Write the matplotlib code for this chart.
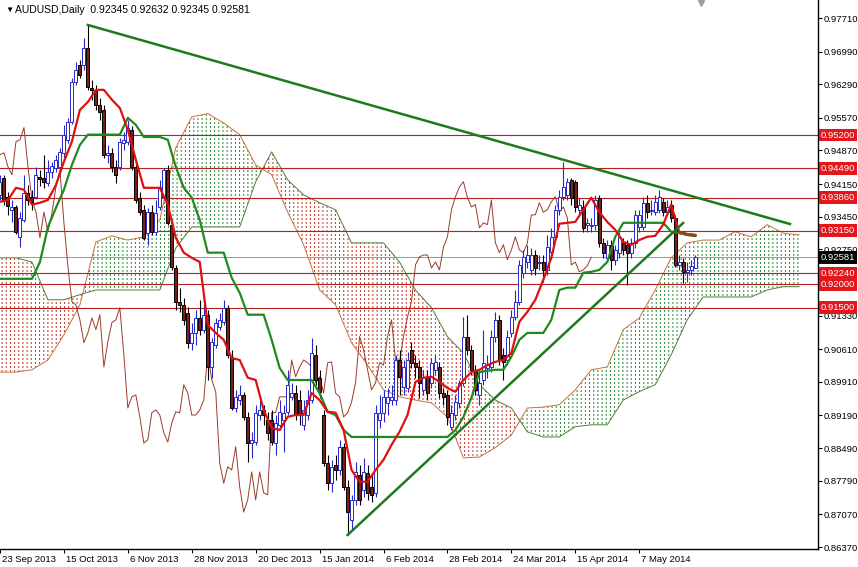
"""AUDUSD daily: candles, Ichimoku, trend lines and levels (MT4-style screenshot)."""

import numpy as np
import matplotlib
matplotlib.use("Agg")
import matplotlib.pyplot as plt
import matplotlib.transforms as mtransforms

plt.rcParams['font.family'] = ['Liberation Sans', 'DejaVu Sans']
plt.rcParams['hatch.linewidth'] = 0.72

title = "AUDUSD,Daily  0.92345 0.92632 0.92345 0.92581"

# OHLC, one value per daily bar (bar 0 = 23 Sep 2013)
opens = [
    .9392, .9428, .9388, .9360, .9366, .9302, .9338, .9396, .9388, .9388,
    .9430, .9428, .9418, .9441, .9450, .9452, .9482, .9510, .9548, .9634,
    .9671, .9671, .9707, .9621, .9617, .9585, .9574, .9478, .9482, .9452,
    .9452, .9503, .9506, .9531, .9452, .9386, .9360, .9310, .9355, .9313,
    .9366, .9388, .9445, .9328, .9235, .9163, .9156, .9139, .9075, .9096,
    .9128, .9103, .9135, .9023, .9070, .9109, .9120, .9150, .9045, .8935,
    .8952, .8963, .8916, .8860, .8862, .8920, .8931, .8910, .8910, .8860,
    .8899, .8910, .8927, .8959, .8967, .8952, .8899, .8920, .8952, .9049,
    .9000, .8920, .8817, .8774, .8813, .8802, .8852, .8766, .8695, .8738,
    .8792, .8759, .8796, .8766, .8753, .8910, .8925, .8946, .8952, .8952,
    .9038, .8980, .8978, .9060, .9032, .9023, .8974, .9002, .8989, .9017,
    .9023, .8967, .8963, .8895, .8920, .8946, .8989, .9088, .9060, .9017,
    .8963, .8995, .9021, .9023, .9088, .9124, .9049, .9038, .9096, .9130,
    .9163, .9225, .9248, .9231, .9263, .9246, .9248, .9231, .9270, .9302,
    .9360, .9388, .9392, .9424, .9420, .9360, .9366, .9328, .9326, .9328,
    .9386, .9289, .9257, .9285, .9253, .9268, .9289, .9285, .9268, .9289,
    .9323, .9323, .9375, .9358, .9355, .9360, .9377, .9355, .9371, .9343,
    .9242, .9248, .9227, .9231, .92345,
]
highs = [
    .9435, .9435, .9398, .9381, .9371, .9355, .9435, .9413, .9403, .9452,
    .9445, .9478, .9467, .9463, .9478, .9493, .9542, .9557, .9643, .9677,
    .9681, .9729, .9756, .9639, .9628, .9600, .9585, .9499, .9493, .9467,
    .9514, .9527, .9553, .9540, .9467, .9398, .9371, .9364, .9371, .9381,
    .9424, .9450, .9456, .9338, .9242, .9193, .9171, .9152, .9118, .9145,
    .9167, .9167, .9145, .9085, .9128, .9139, .9167, .9156, .9060, .8974,
    .8985, .8970, .8927, .8884, .8942, .8957, .8942, .8927, .8931, .8920,
    .8952, .8942, .9017, .8989, .8985, .8974, .8952, .8974, .9085, .9070,
    .9017, .8931, .8835, .8824, .8835, .8867, .8860, .8781, .8749, .8820,
    .8813, .8828, .8813, .8792, .8942, .8963, .8974, .8978, .8985, .9049,
    .9060, .9038, .9055, .9077, .9049, .9038, .9017, .9017, .9042, .9049,
    .9034, .8978, .8974, .8942, .8963, .8995, .9130, .9135, .9070, .9027,
    .9017, .9103, .9049, .9103, .9141, .9135, .9064, .9103, .9145, .9188,
    .9253, .9274, .9285, .9278, .9274, .9263, .9263, .9306, .9321, .9371,
    .9403, .9463, .9428, .9428, .9424, .9386, .9381, .9343, .9343, .9392,
    .9392, .9300, .9295, .9295, .9285, .9313, .9300, .9295, .9300, .9360,
    .9360, .9388, .9392, .9381, .9392, .9403, .9386, .9381, .9381, .9349,
    .9263, .9257, .9248, .9253, .92632,
]
lows = [
    .9381, .9371, .9349, .9334, .9308, .9280, .9334, .9371, .9360, .9383,
    .9411, .9407, .9411, .9428, .9441, .9445, .9471, .9503, .9544, .9628,
    .9643, .9660, .9617, .9596, .9574, .9553, .9471, .9461, .9441, .9418,
    .9445, .9488, .9499, .9445, .9375, .9349, .9295, .9285, .9306, .9306,
    .9360, .9381, .9328, .9231, .9145, .9141, .9113, .9064, .9060, .9070,
    .9092, .9096, .8995, .9000, .9064, .9103, .9113, .9042, .8931, .8927,
    .8942, .8910, .8820, .8828, .8856, .8910, .8899, .8867, .8856, .8835,
    .8888, .8841, .8920, .8952, .8910, .8899, .8888, .8910, .8946, .8985,
    .8957, .8811, .8759, .8755, .8781, .8792, .8759, .8663, .8674, .8727,
    .8727, .8744, .8738, .8734, .8744, .8892, .8905, .8920, .8942, .8942,
    .8963, .8963, .8970, .9021, .9000, .8957, .8963, .8952, .8978, .9006,
    .8957, .8942, .8899, .8888, .8910, .8935, .8982, .9049, .9006, .8963,
    .8942, .8985, .9000, .9012, .9077, .9027, .8995, .9027, .9088, .9124,
    .9156, .9214, .9235, .9220, .9220, .9231, .9205, .9220, .9261, .9295,
    .9349, .9381, .9381, .9371, .9355, .9349, .9313, .9313, .9313, .9317,
    .9280, .9257, .9248, .9231, .9242, .9257, .9263, .9199, .9257, .9278,
    .9313, .9317, .9343, .9349, .9349, .9353, .9347, .9349, .9334, .9238,
    .9231, .9203, .9205, .9220, .92345,
]
closes = [
    .9420, .9381, .9368, .9366, .9313, .9343, .9396, .9381, .9377, .9435,
    .9426, .9420, .9441, .9454, .9467, .9484, .9521, .9548, .9634, .9660,
    .9649, .9707, .9624, .9617, .9585, .9570, .9478, .9482, .9452, .9435,
    .9506, .9510, .9536, .9452, .9381, .9355, .9300, .9355, .9313, .9353,
    .9409, .9445, .9332, .9238, .9163, .9156, .9124, .9075, .9096, .9128,
    .9103, .9135, .9023, .9077, .9118, .9124, .9150, .9049, .8935, .8959,
    .8963, .8916, .8860, .8867, .8925, .8931, .8920, .8882, .8862, .8903,
    .8927, .8925, .8985, .8967, .8920, .8920, .8931, .8952, .9053, .8995,
    .8970, .8817, .8774, .8809, .8802, .8852, .8766, .8712, .8738, .8798,
    .8738, .8798, .8753, .8749, .8925, .8925, .8959, .8959, .8959, .9038,
    .9002, .9023, .9038, .9032, .9023, .8989, .9002, .8967, .9032, .9034,
    .8967, .8959, .8916, .8925, .8948, .8989, .9088, .9060, .9017, .8974,
    .8989, .9032, .9027, .9088, .9124, .9038, .9034, .9088, .9130, .9163,
    .9242, .9259, .9263, .9263, .9235, .9248, .9231, .9280, .9302, .9360,
    .9388, .9409, .9420, .9386, .9366, .9371, .9321, .9332, .9328, .9381,
    .9289, .9268, .9285, .9253, .9274, .9302, .9274, .9268, .9289, .9349,
    .9349, .9375, .9355, .9360, .9377, .9388, .9355, .9366, .9343, .9242,
    .9248, .9227, .9231, .9240, .92581,
]

# Ichimoku lines: tenkan / kijun every 2 bars (0..174)
tenkan = [
    .9377, .9381, .9407, .9403, .9371, .9375, .9381, .9413, .9463, .9506,
    .9574, .9591, .9617, .9617, .9596, .9578, .9531, .9467, .9407, .9407,
    .9407, .9371, .9300, .9268, .9257, .9248, .9113, .9096, .9081, .9042,
    .9038, .9000, .8995, .8931, .8892, .8888, .8916, .8920, .8920, .8967,
    .8952, .8927, .8925, .8888, .8802, .8777, .8777, .8802, .8824, .8856,
    .8884, .8920, .8991, .9000, .9002, .8991, .8978, .8970, .8995, .9012,
    .9017, .9027, .9034, .9038, .9053, .9120, .9141, .9167, .9210, .9257,
    .9330, .9332, .9334, .9360, .9386, .9355, .9334, .9317, .9291, .9285,
    .9295, .9302, .9304, .9328, .9371, .9313, .9308, .9306,
]
kijun = [
    .9212, .9212, .9212, .9212, .9212, .9248, .9323, .9364, .9403, .9456,
    .9499, .9521, .9521, .9521, .9521, .9521, .9557, .9542, .9516, .9516,
    .9516, .9510, .9452, .9407, .9386, .9338, .9268, .9268, .9268, .9214,
    .9182, .9135, .9135, .9135, .9081, .9021, .8995, .8995, .8995, .8995,
    .8967, .8927, .8920, .8888, .8873, .8873, .8873, .8873, .8873, .8873,
    .8873, .8873, .8873, .8873, .8873, .8873, .8873, .8888, .8916, .8957,
    .9012, .9015, .9017, .9017, .9045, .9081, .9096, .9096, .9096, .9124,
    .9188, .9193, .9193, .9225, .9227, .9231, .9248, .9302, .9332, .9332,
    .9332, .9332, .9332, .9332, .9313, .9310, .9306, .9304,
]
# Senkou spans every 4 bars (0..200, the cloud runs 26 bars ahead)
span_a = [
    .9012, .9012, .9017, .9038, .9092, .9156, .9291, .9304, .9295, .9302,
    .9338, .9493, .9559, .9566, .9546, .9521, .9456, .9435, .9355, .9285,
    .9188, .9156, .9075, .9027, .8974, .8959, .8952, .8946, .8916, .8828,
    .8830, .8850, .8877, .8935, .8937, .8942, .8974, .9017, .9023, .9103,
    .9128, .9188, .9257, .9289, .9295, .9295, .9313, .9302, .9328, .9310,
    .9306,
]
span_b = [
    .9257, .9257, .9248, .9167, .9167, .9178, .9188, .9188, .9188, .9188,
    .9188, .9278, .9323, .9323, .9323, .9323, .9420, .9484, .9424, .9392,
    .9375, .9360, .9289, .9289, .9289, .9248, .9188, .9150, .9088, .9053,
    .8985, .8952, .8935, .8884, .8873, .8873, .8895, .8899, .8899, .8952,
    .8970, .8985, .9049, .9124, .9173, .9173, .9173, .9173, .9188, .9195,
    .9195,
]

levels = [0.9520, 0.9449, 0.9386, 0.9315, 0.9224, 0.9200, 0.9150]
last_price = 0.92581

trend_down_x = [22, 197.75]
trend_down_y = [0.97560, 0.93294]
trend_up_x = [87, 171]
trend_up_y = [0.86628, 0.93316]

date_labels = ["23 Sep 2013", "15 Oct 2013", "6 Nov 2013", "28 Nov 2013",
               "20 Dec 2013", "15 Jan 2014", "6 Feb 2014", "28 Feb 2014",
               "24 Mar 2014", "15 Apr 2014", "7 May 2014"]
price_ticks = [0.97710, 0.96990, 0.96290, 0.95570, 0.94870, 0.94150, 0.93450,
               0.92750, 0.91330, 0.90610, 0.89910, 0.89190, 0.88490, 0.87790,
               0.87070, 0.86370]


def main() -> None:
    o = np.array(opens)
    h = np.array(highs)
    lo = np.array(lows)
    c = np.array(closes)
    bars = np.arange(len(c))
    x2 = np.arange(0, 175, 2)
    x4 = np.arange(0, 201, 4)
    a = np.array(span_a)
    b = np.array(span_b)
    tk = np.array(tenkan)
    kj = np.array(kijun)

    fig = plt.figure(figsize=(8.58, 5.67), dpi=100)
    ax = fig.add_axes([0, 18 / 567, 818 / 858, 549 / 567])
    y0, y1 = 0.86328, 0.98096
    ax.set_xlim(0.25, 204.75)
    ax.set_ylim(y0, y1)

    # cloud: vertical hatch, broken into dots by thin white stripes
    ax.fill_between(x4, a, b, where=a >= b, interpolate=True,
                    facecolor='none', edgecolor='#2f8a3a', linewidth=0,
                    hatch='||||', zorder=1)
    ax.fill_between(x4, a, b, where=a < b, interpolate=True,
                    facecolor='none', edgecolor='#c0392b', linewidth=0,
                    hatch='||||', zorder=1)
    px = (y1 - y0) / 549
    stripes = np.arange(y0, y1, 4 * px)
    ax.hlines(stripes, 0, 210, colors='white', linewidth=1.44, zorder=1.5)
    ax.plot(x4, a, color='#c8703c', lw=0.7, zorder=2)
    ax.plot(x4, b, color='#4f7f3a', lw=0.7, zorder=2)

    # levels
    for v in levels:
        ax.axhline(v, color='#b52020', lw=0.8, zorder=2)
    ax.axhline(last_price, color='#8c9aa6', lw=0.7, zorder=2)

    # chikou (close shifted back 26 bars)
    ax.plot(bars[:-26], c[26:], color='#9a3a2a', lw=0.7, zorder=3)

    # candles
    bull = c >= o
    ax.vlines(bars[bull], lo[bull], h[bull], color='#2828c8', lw=0.8, zorder=4)
    ax.vlines(bars[~bull], lo[~bull], h[~bull], color='black', lw=0.8, zorder=4)
    body_lo = np.minimum(o, c)
    body_h = np.maximum(np.abs(c - o), 0.00005)
    ax.bar(bars[bull], body_h[bull], bottom=body_lo[bull], width=0.75,
           color='white', edgecolor='#2828c8', lw=0.7, zorder=5)
    ax.bar(bars[~bull], body_h[~bull], bottom=body_lo[~bull], width=0.75,
           color='#7d1f1a', edgecolor='black', lw=0.7, zorder=5)

    # tenkan / kijun, brown where the two run together
    ax.plot(x2, kj, color='#1f8a1f', lw=1.6, zorder=6)
    ax.plot(x2, tk, color='#e01010', lw=1.6, zorder=6)
    close = np.abs(tk - kj) < 0.0004
    run = close & (np.roll(close, 1) | np.roll(close, -1))
    ax.plot(x2, np.where(run, (tk + kj) / 2, np.nan), color='#8b4a1c',
            lw=2.2, zorder=6.5)

    # trend lines
    ax.plot(trend_down_x, trend_down_y, color='#1d7a1d', lw=1.8, zorder=7)
    ax.plot(trend_up_x, trend_up_y, color='#1d7a1d', lw=1.8, zorder=7)

    # axes look
    for side in ('left', 'top'):
        ax.spines[side].set_visible(False)
    for side in ('right', 'bottom'):
        ax.spines[side].set_color('black')
        ax.spines[side].set_linewidth(1.0)
    ax.yaxis.tick_right()
    ax.set_yticks(price_ticks)
    ax.set_yticklabels([f"{v:.5f}" for v in price_ticks])
    ax.set_xticks(np.arange(0, 161, 16))
    ax.set_xticklabels(date_labels)
    ax.tick_params(axis='both', direction='out', length=3, width=0.8,
                   labelsize=6.8, pad=1, colors='black')
    shift = mtransforms.ScaledTranslation(2 / 100, 0, fig.dpi_scale_trans)
    for lab in ax.get_xticklabels():
        lab.set_ha('left')
        lab.set_transform(lab.get_transform() + shift)

    # price boxes on the right axis
    ytr = ax.get_yaxis_transform()
    for v in levels:
        ax.text(1.003, v, f"{v:.5f}", transform=ytr, ha='left', va='center',
                fontsize=6.8, color='white', clip_on=False, zorder=20,
                bbox=dict(boxstyle='square,pad=0.2', fc='#e3161b', ec='none'))
    ax.text(1.003, last_price, f"{last_price:.5f}", transform=ytr, ha='left',
            va='center', fontsize=6.8, color='white', clip_on=False, zorder=20,
            bbox=dict(boxstyle='square,pad=0.2', fc='black', ec='none'))

    # title and small chart marker
    fig.text(5 / 858, 1 - 10 / 567, "▼", fontsize=6, va='center',
             ha='left', color='black')
    fig.text(15 / 858, 1 - 10 / 567, title, fontsize=7.5, va='center',
             ha='left', color='black')
    ax.plot([701 / 818], [0.995], marker='v', ms=5, color='#9aa0a6',
            transform=ax.transAxes, clip_on=False)

    fig.savefig("out.png", dpi=100, facecolor='white')


if __name__ == "__main__":
    main()
